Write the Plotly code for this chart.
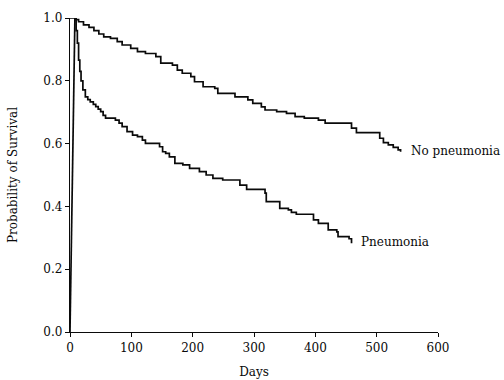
import plotly.graph_objects as go

# Kaplan-Meier style step data (day at which value begins, survival probability)
no_pn_days = [0, 8, 14, 22, 31, 39, 47, 55, 66, 77, 85, 99, 110, 123, 140, 148, 167, 175, 183, 197,
              203, 217, 236, 241, 269, 290, 298, 312, 318, 337, 353, 367, 382, 405, 416, 459, 467,
              505, 511, 519, 527, 535, 539]
no_pn_vals = [1.0, 0.995, 0.988, 0.978, 0.970, 0.960, 0.949, 0.940, 0.935, 0.925, 0.914, 0.903, 0.893,
              0.887, 0.877, 0.856, 0.850, 0.834, 0.824, 0.813, 0.797, 0.781, 0.776, 0.760, 0.749,
              0.739, 0.728, 0.717, 0.707, 0.702, 0.696, 0.686, 0.681, 0.675, 0.665, 0.649, 0.635,
              0.617, 0.603, 0.596, 0.588, 0.580, 0.574]

pn_days = [0, 8, 10, 12, 14, 16, 18, 21, 25, 29, 33, 38, 42, 46, 50, 54, 58, 74, 80, 85, 93, 102,
           110, 118, 123, 146, 151, 156, 162, 171, 184, 195, 211, 222, 233, 249, 277, 288, 318, 320,
           342, 356, 361, 369, 397, 405, 421, 435, 437, 455, 459]
pn_vals = [0.0, 1.0, 0.96, 0.92, 0.866, 0.83, 0.80, 0.771, 0.749, 0.740, 0.733, 0.725, 0.718, 0.710,
           0.702, 0.690, 0.681, 0.675, 0.665, 0.654, 0.638, 0.627, 0.622, 0.611, 0.601, 0.590, 0.574,
           0.569, 0.558, 0.537, 0.532, 0.521, 0.511, 0.500, 0.489, 0.484, 0.468, 0.454, 0.442, 0.415,
           0.394, 0.389, 0.381, 0.375, 0.357, 0.346, 0.325, 0.319, 0.304, 0.297, 0.283]

x_ticks = [0, 100, 200, 300, 400, 500, 600]
y_ticks = [0.0, 0.2, 0.4, 0.6, 0.8, 1.0]

series_labels = ["No pneumonia", "Pneumonia"]
label_pos = [(552, 0.577), (471, 0.287)]

FONT = "DejaVu Serif"
INK = "#0a0a0a"
line_style = dict(color=INK, width=1.7)

fig = go.Figure()
fig.add_trace(go.Scatter(x=no_pn_days, y=no_pn_vals, mode="lines", line=dict(shape="hv", **line_style),
                         cliponaxis=False, showlegend=False, hoverinfo="skip"))
# initial rise of the pneumonia curve (drawn as a straight segment)
fig.add_trace(go.Scatter(x=pn_days[:2], y=pn_vals[:2], mode="lines", line=dict(shape="linear", **line_style),
                         cliponaxis=False, showlegend=False, hoverinfo="skip"))
fig.add_trace(go.Scatter(x=pn_days[1:], y=pn_vals[1:], mode="lines", line=dict(shape="hv", **line_style),
                         cliponaxis=False, showlegend=False, hoverinfo="skip"))

for txt, (lx, ly) in zip(series_labels, label_pos):
    fig.add_annotation(x=lx, y=ly, text=txt, showarrow=False, xanchor="left", yanchor="middle",
                       font=dict(family=FONT, size=12, color=INK))

fig.update_layout(
    width=504, height=380,
    margin=dict(l=70, r=66, t=18, b=48),
    paper_bgcolor="white", plot_bgcolor="white",
    font=dict(family=FONT, size=12, color=INK),
    xaxis=dict(range=[0, 600], tickvals=x_ticks, ticks="outside", ticklen=4, tickwidth=1.3,
               tickcolor=INK, showline=True, linecolor=INK, linewidth=1.3,
               showgrid=False, zeroline=False, automargin=False,
               title=dict(text="Days", font=dict(family=FONT, size=12), standoff=14)),
    yaxis=dict(range=[0, 1], tickvals=y_ticks, tickformat=".1f", ticks="outside", ticklen=4,
               tickwidth=1.3, tickcolor=INK, showline=True, linecolor=INK, linewidth=1.3,
               showgrid=False, zeroline=False, automargin=False,
               title=dict(text="Probability of Survival", font=dict(family=FONT, size=12), standoff=23)),
)

# remove the default page margin so the figure fills the window exactly
fig.write_html("out.html", config={"displayModeBar": False},
               post_script="document.body.style.margin='0';document.body.style.overflow='hidden';")
